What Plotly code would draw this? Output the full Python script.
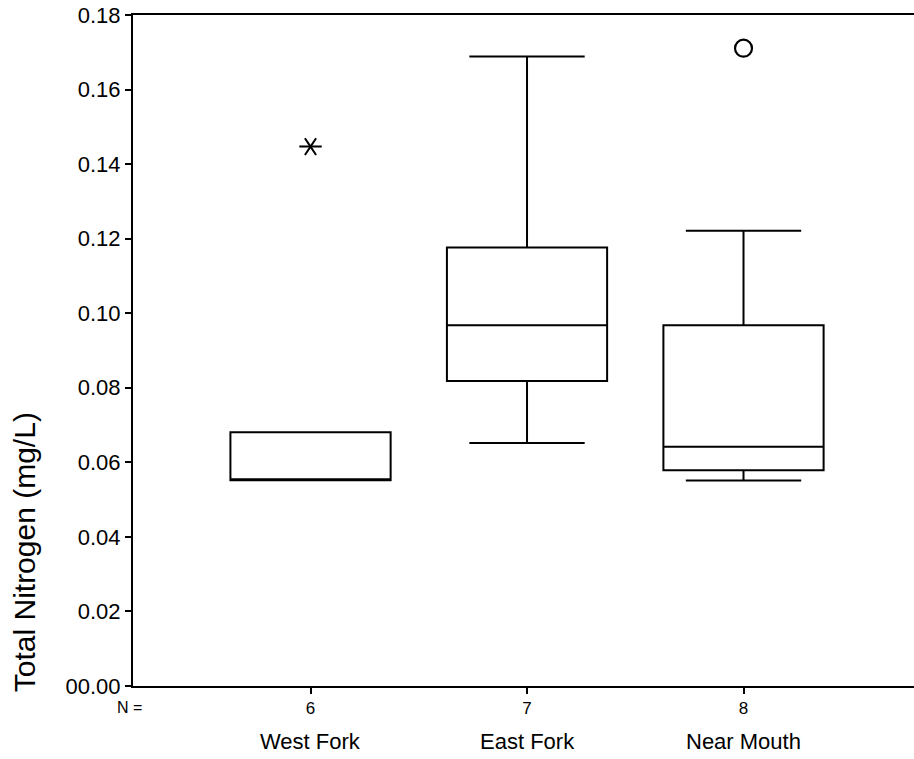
import plotly.graph_objects as go

# ---- data ----
categories = ["West Fork", "East Fork", "Near Mouth"]
n_counts = ["6", "7", "8"]
positions = [1, 2, 3]
q1 = [0.0552, 0.0818, 0.0579]
median = [0.0552, 0.0968, 0.0642]
q3 = [0.0681, 0.1176, 0.0968]
lower_whisker = [0.0552, 0.0652, 0.0551]
upper_whisker = [0.0681, 0.1689, 0.1221]

extreme_x = [1]          # asterisk (extreme value)
extreme_y = [0.1447]
outlier_x = [3]          # circle (outlier)
outlier_y = [0.1711]

y_tickvals = [0, 0.02, 0.04, 0.06, 0.08, 0.10, 0.12, 0.14, 0.16, 0.18]
y_ticktext = ["00.00", "0.02", "0.04", "0.06", "0.08", "0.10", "0.12", "0.14", "0.16", "0.18"]

FONT = "Liberation Sans, Arial, sans-serif"

fig = go.Figure()
fig.add_trace(go.Box(
    x=positions, q1=q1, median=median, q3=q3,
    lowerfence=lower_whisker, upperfence=upper_whisker,
    width=0.74, whiskerwidth=0.72,
    line=dict(color="black", width=2), fillcolor="white",
    boxpoints=False, showlegend=False, hoverinfo="skip",
))
# extreme: 6-spoke asterisk built from two rotated Y symbols
for sym in ["y-left-open", "y-right-open"]:
    fig.add_trace(go.Scatter(
        x=extreme_x, y=extreme_y, mode="markers",
        marker=dict(symbol=sym, size=14, color="black",
                    line=dict(color="black", width=2)),
        showlegend=False, hoverinfo="skip", cliponaxis=False,
    ))
fig.add_trace(go.Scatter(
    x=outlier_x, y=outlier_y, mode="markers",
    marker=dict(symbol="circle-open", size=17, color="black",
                line=dict(color="black", width=2.2)),
    showlegend=False, hoverinfo="skip", cliponaxis=False,
))

# category names under the N counts
for xp, name in zip(positions, categories):
    fig.add_annotation(x=xp, xref="x", y=-0.082, yref="paper", text=name,
                       showarrow=False, font=dict(family=FONT, size=22, color="black"),
                       xanchor="center", yanchor="middle")

fig.add_annotation(x=-0.004, xref="paper", y=-0.0313, yref="paper", text="N =",
                   showarrow=False, font=dict(family=FONT, size=16, color="black"),
                   xanchor="center", yanchor="middle")
fig.add_annotation(x=-0.139, xref="paper", y=0.2, yref="paper",
                   text="Total Nitrogen (mg/L)", textangle=-90,
                   showarrow=False, font=dict(family=FONT, size=30, color="black"),
                   xanchor="center", yanchor="middle")

fig.update_layout(
    width=914, height=759,
    margin=dict(l=133, r=0, t=15, b=73),
    plot_bgcolor="white", paper_bgcolor="white",
    font=dict(family=FONT, color="black"),
)
fig.update_xaxes(
    range=[0.180, 3.7875], tickvals=positions, ticktext=n_counts,
    showgrid=False, zeroline=False, showline=True, mirror=True,
    linecolor="black", linewidth=2,
    ticks="outside", ticklen=6, tickwidth=2, tickcolor="black",
    tickfont=dict(family=FONT, size=17, color="black"),
)
fig.update_yaxes(
    range=[0, 0.18], tickvals=y_tickvals, ticktext=y_ticktext,
    showgrid=False, zeroline=False, showline=True, mirror=False,
    linecolor="black", linewidth=2,
    ticks="outside", ticklen=6, tickwidth=2, tickcolor="black",
    tickfont=dict(family=FONT, size=22, color="black"),
)

fig.write_html("out.html")
